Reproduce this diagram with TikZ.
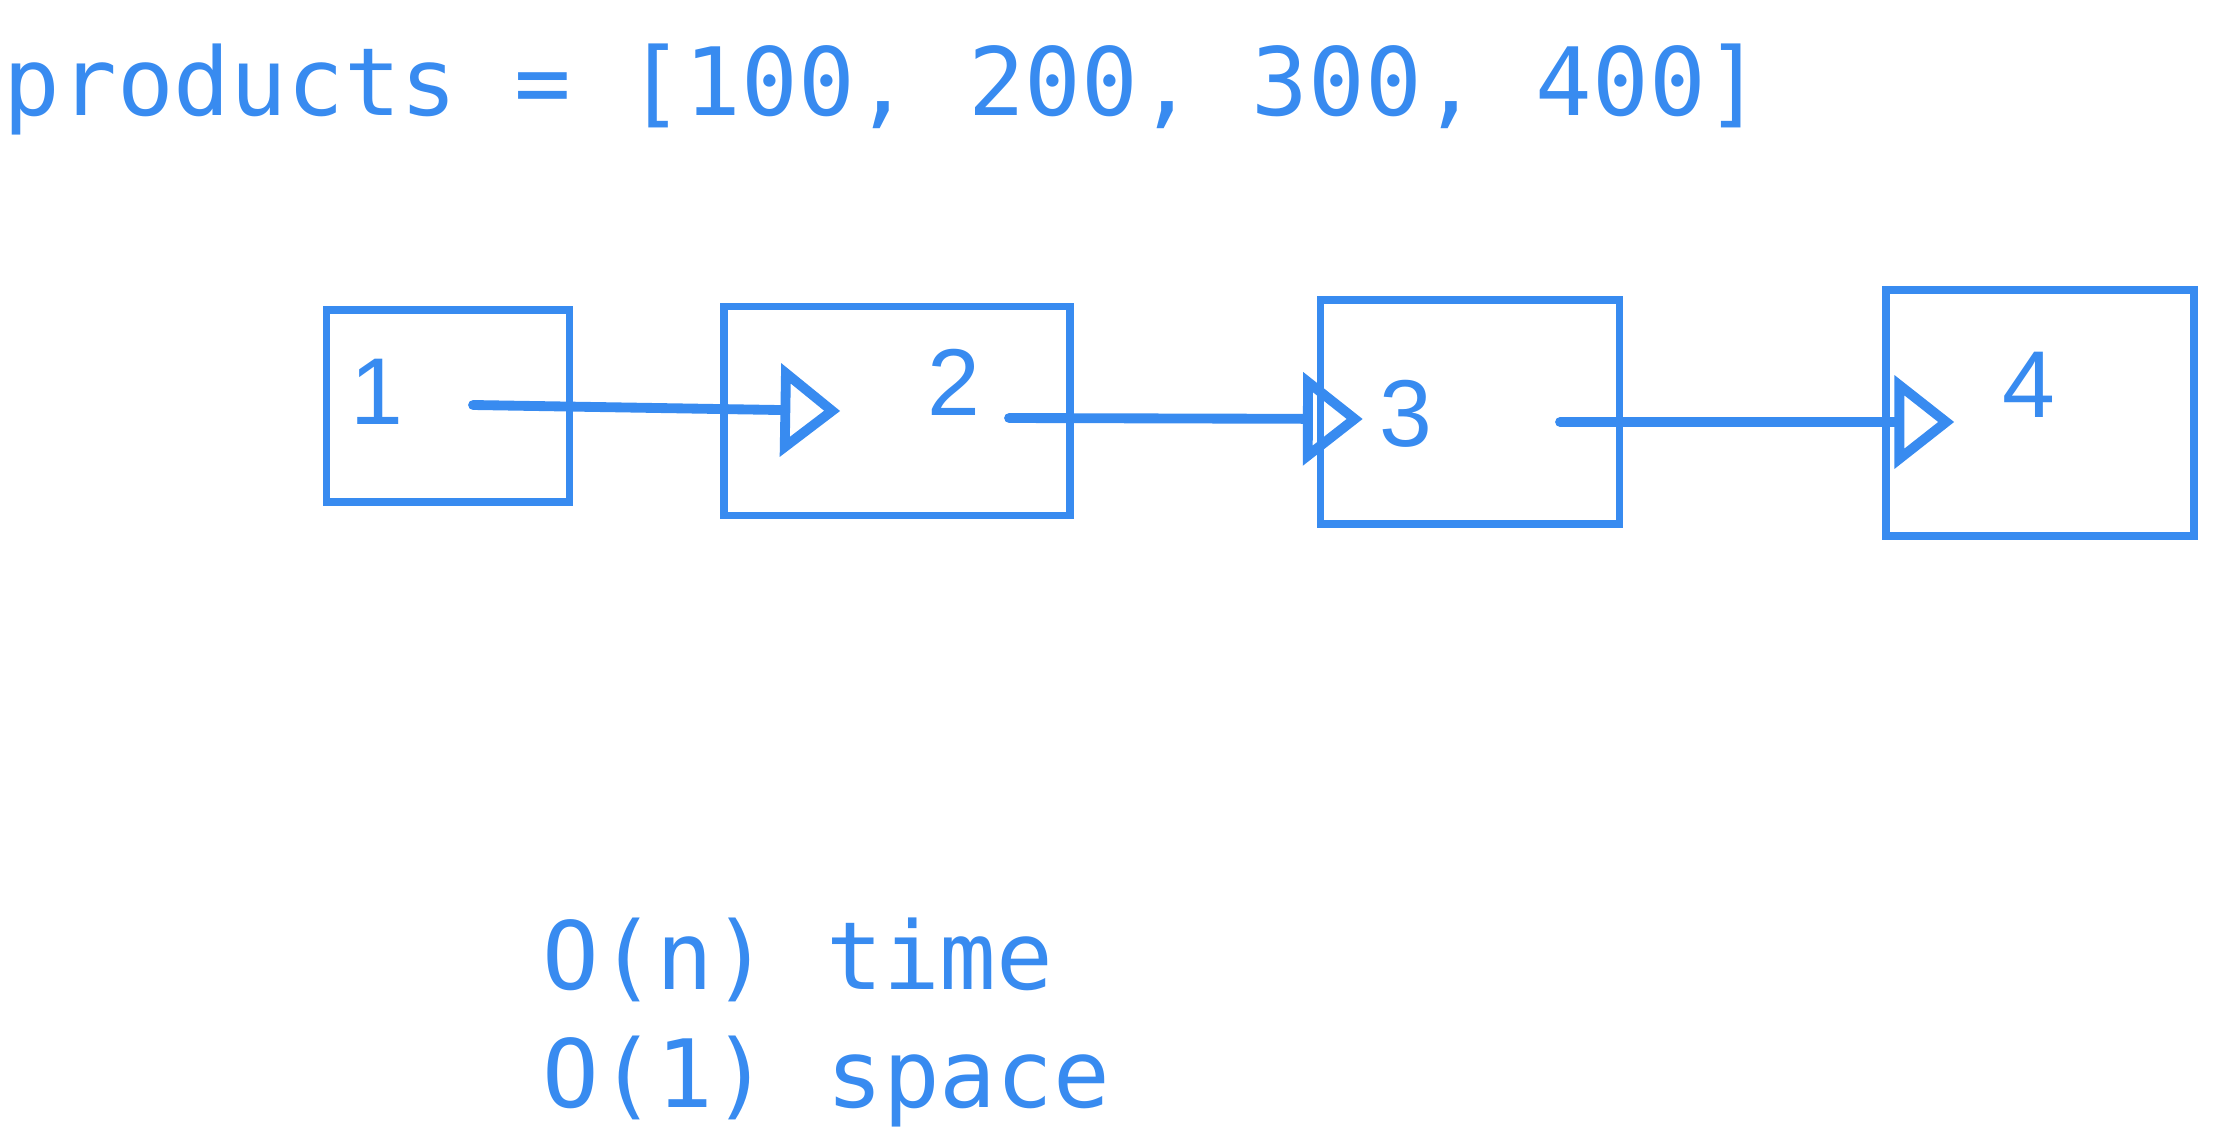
\documentclass[tikz,border=0pt]{standalone}
\usepackage{fontspec}
\setmonofont{DejaVu Sans Mono}
\newfontfamily\fuenteNum{Liberation Sans}
\usetikzlibrary{arrows.meta, positioning, calc}
\definecolor{azulplumon}{HTML}{388BF0}
\colorlet{colTinta}{azulplumon}
\tikzset{
  cajaNodo/.style={
    draw=colTinta, line width=2.1pt, inner sep=0pt
  },
  numNodo/.style={font=\fuenteNum\fontsize{27}{27}\selectfont, text=colTinta, inner sep=0pt},
  textoCodigo/.style={font=\ttfamily\fontsize{26.8}{30}\selectfont, text=colTinta,
    inner sep=0pt, anchor=base west},
  flecha/.style={-{Triangle[open, length=17pt, width=26pt]}, line width=2.8pt,
    line cap=round, line join=round, colTinta},
}

\begin{document}
\begin{tikzpicture}[x=0.01cm, y=-0.01cm]
    \useasboundingbox (0,0) rectangle (2222,1140);

    \node[textoCodigo] (lista) at (3,116) {products = [100, 200, 300, 400]};

    % cajas de la lista enlazada
    \foreach \n/\cx/\cy/\w/\h/\lx/\ly in {
        1/448/406/2.43cm/1.92cm/377/392,
        2/897/411/3.46cm/2.09cm/954/382,
        3/1470/412/2.99cm/2.24cm/1406/414,
        4/2040/413/3.08cm/2.46cm/2029/385
      }{
        \node[cajaNodo, minimum width=\w, minimum height=\h] (c\n) at (\cx,\cy) {};
        \node[numNodo] (num\n) at (\lx,\ly) {\n};
      }

    \draw[flecha] ($(c1.center)+(25,-1)$) -- ($(c2.west)+(120,0)$);
    \draw[flecha] ($(c2.center)+(112,7)$) -- ($(c3.west)+(46,7)$);
    \draw[flecha] ($(c3.center)+(90,10)$) -- ($(c4.west)+(72,9)$);

    \node[textoCodigo] (tiempo) at (542,989) {O(n) time};
    \node[textoCodigo] (espacio) at (542,1107) {O(1) space};
  \end{tikzpicture}
\end{document}
